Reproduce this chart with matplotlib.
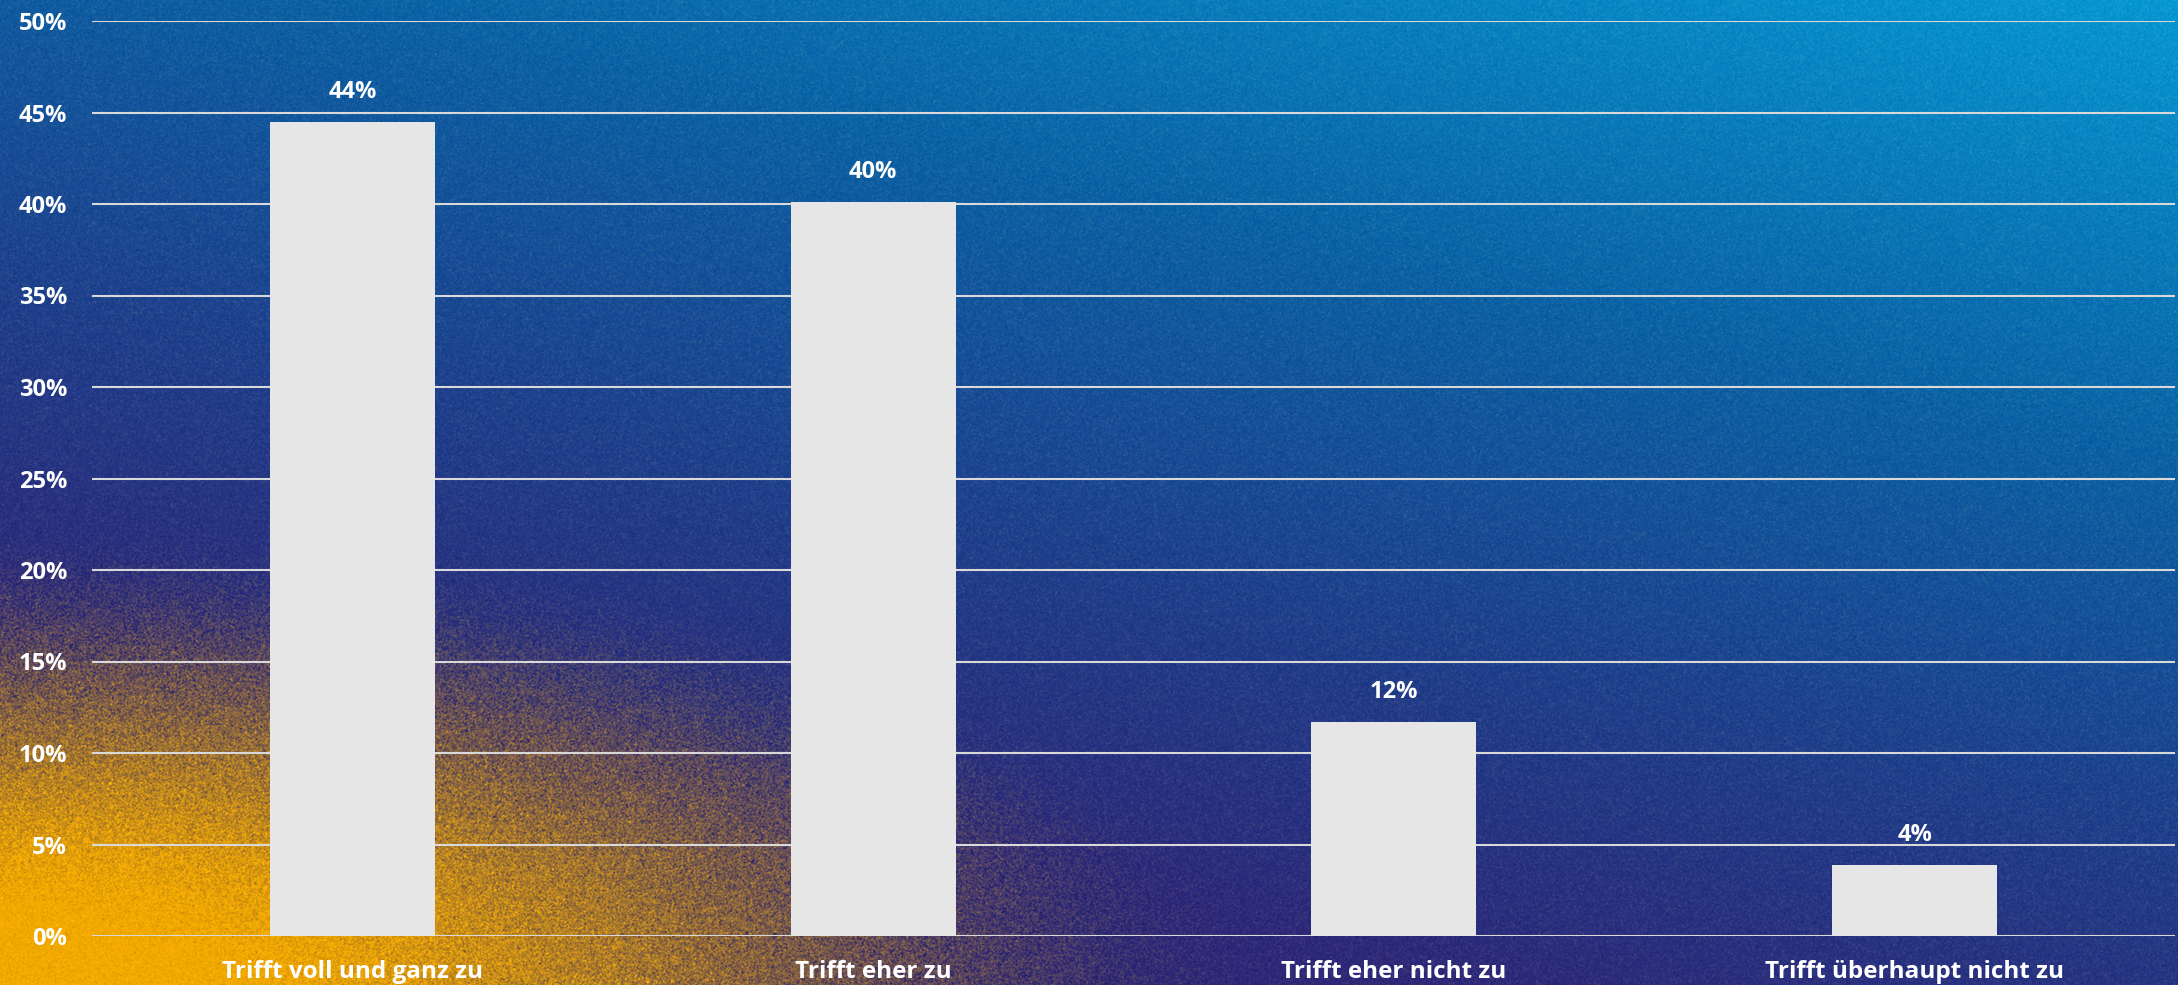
import numpy as np
import matplotlib
matplotlib.use('Agg')
import matplotlib.pyplot as plt

# data
categories = ['Trifft voll und ganz zu', 'Trifft eher zu', 'Trifft eher nicht zu', 'Trifft überhaupt nicht zu']
values = [44.5, 40.1, 11.7, 3.9]
value_labels = ['44%', '40%', '12%', '4%']
y_ticks = [0, 5, 10, 15, 20, 25, 30, 35, 40, 45, 50]

plt.rcParams['font.family'] = ['Open Sans', 'DejaVu Sans']
plt.rcParams['font.weight'] = 'bold'

W, H = 2178, 985
fig = plt.figure(figsize=(W / 100, H / 100), dpi=100)

# background: blue -> purple gradient with a grainy orange glow in the bottom-left
u = np.linspace(0, 1, W)[None, :]
v = np.linspace(0, 1, H)[:, None]
t = np.clip(((1 - u) * 0.55 + v * 1.0) / 1.55, 0, 1)
stops = np.array([0.0, 0.3, 0.55, 0.75, 1.0])
cols = np.array([
    [0x06, 0x98, 0xd4],
    [0x0b, 0x62, 0xa6],
    [0x1f, 0x3f, 0x8c],
    [0x2d, 0x2a, 0x7a],
    [0x2f, 0x23, 0x6e],
]) / 255.0
base = np.stack([np.interp(t, stops, cols[:, i]) for i in range(3)], axis=-1)

rng = np.random.default_rng(3)
grain = rng.normal(0, 1, (H, W))
# smooth the grain a little so it looks like film grain
grain = (grain + np.roll(grain, 1, 0) + np.roll(grain, 1, 1) + np.roll(np.roll(grain, 1, 0), 1, 1)) / 2.0
dx = u * W / 1100.0
dy = (1 - v) * H / 400.0
r = np.sqrt(dx ** 2 + dy ** 2)
glow = np.clip(1.15 - r, 0, 1.0)
glow = glow * glow * (3 - 2 * glow)
glow = np.clip(glow + grain * 0.2 * np.sqrt(glow * (1 - glow) + 0.01), 0, 1)
orange = np.array([0xf3, 0xaa, 0x00]) / 255.0
img = base * (1 - glow[..., None]) + orange * glow[..., None]
img = np.clip(img + grain[..., None] * 0.012, 0, 1)

bg = fig.add_axes([0, 0, 1, 1])
bg.imshow(img, aspect='auto', interpolation='nearest')
bg.axis('off')

ax = fig.add_axes([92 / W, (H - 936) / H, (2175 - 92) / W, (936 - 21) / H])
ax.set_facecolor('none')
x = np.arange(len(categories))
ax.bar(x, values, width=0.317, color='#e6e6e6', zorder=3)
for xi, val, lab in zip(x, values, value_labels):
    ax.annotate(lab, (xi, val), xytext=(0, 13), textcoords='offset points',
                ha='center', va='bottom', color='white', fontsize=17, fontweight='bold')

ax.set_xlim(-0.5, 3.5)
ax.set_ylim(0, 50)
ax.set_yticks(y_ticks)
ax.set_yticklabels([f'{t}%' for t in y_ticks])
ax.set_xticks(x)
ax.set_xticklabels(categories)
ax.tick_params(axis='y', length=0, pad=18, labelsize=17, labelcolor='white')
ax.tick_params(axis='x', length=0, pad=17, labelsize=17.5, labelcolor='white')
ax.grid(axis='y', color='#d9d9d9', linewidth=1.5, zorder=1)
for s in ax.spines.values():
    s.set_visible(False)

fig.savefig('out.png', dpi=100)
